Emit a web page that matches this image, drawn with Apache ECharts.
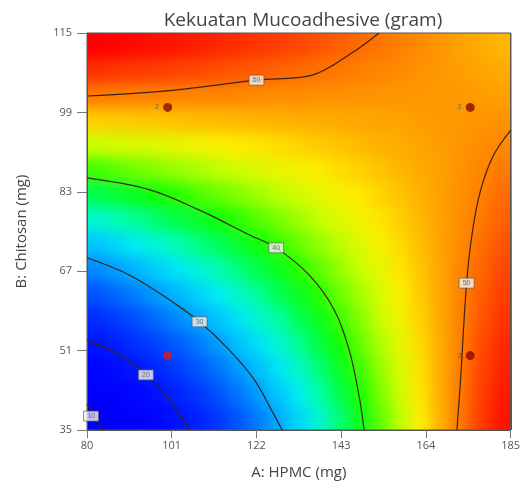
<!DOCTYPE html>
<html>
<head>
<meta charset="utf-8">
<script src="https://cdn.jsdelivr.net/npm/echarts@6/dist/echarts.min.js"></script>
<style>
  html,body{margin:0;padding:0;background:#fff;}
  #wrap{position:relative;width:523px;height:491px;}
  #clip{position:absolute;left:87px;top:33px;width:425px;height:397px;overflow:hidden;}
  #surf{position:absolute;left:-30px;top:-30px;width:485px;height:457px;filter:blur(7px);}
  #main{position:absolute;left:0;top:0;width:523px;height:491px;}
</style>
</head>
<body>
<div id="wrap">
  <div id="clip"><div id="surf"></div></div>
  <div id="main"></div>
</div>
<script>
// titik tengah sel (mg)
let hpmcCells=[82.5,87.5,92.5,97.5,102.5,107.5,112.5,117.5,122.5,127.5,132.5,137.5,142.5,147.5,152.5,157.5,162.5,167.5,172.5,177.5,182.5]
let chitosanCells=[37.5,42.5,47.5,52.5,57.5,62.5,67.5,72.5,77.5,82.5,87.5,92.5,97.5,102.5,107.5,112.5]
// kekuatan (gram) dibaca dari warna, satu baris per chitosan
let kekuatan=[
  [10.7,12.9,15.1,17.3,19.5,21.7,23.9,26.1,28.3,30.6,32.8,35.0,37.2,39.4,41.6,43.8,46.0,48.2,50.4,52.6,54.9],
  [13.7,15.8,17.8,19.8,21.9,23.9,25.9,28.0,30.0,32.0,34.1,36.1,38.1,40.2,42.2,44.2,46.3,48.3,50.3,52.4,54.4],
  [16.8,18.6,20.5,22.3,24.2,26.1,27.9,29.8,31.6,33.5,35.3,37.2,39.1,40.9,42.8,44.6,46.5,48.4,50.2,52.1,53.9],
  [19.8,21.5,23.2,24.8,26.5,28.2,29.9,31.6,33.3,34.9,36.6,38.3,40.0,41.7,43.4,45.0,46.7,48.4,50.1,51.8,53.5],
  [22.8,24.3,25.8,27.4,28.9,30.4,31.9,33.4,34.9,36.4,37.9,39.4,40.9,42.4,44.0,45.5,47.0,48.5,50.0,51.5,53.0],
  [25.9,27.2,28.5,29.9,31.2,32.5,33.9,35.2,36.5,37.9,39.2,40.5,41.9,43.2,44.5,45.9,47.2,48.5,49.9,51.2,52.5],
  [28.9,30.1,31.2,32.4,33.5,34.7,35.9,37.0,38.2,39.3,40.5,41.6,42.8,44.0,45.1,46.3,47.4,48.6,49.8,50.9,52.1],
  [31.9,32.9,33.9,34.9,35.9,36.9,37.8,38.8,39.8,40.8,41.8,42.8,43.7,44.7,45.7,46.7,47.7,48.7,49.6,50.6,51.6],
  [35.0,35.8,36.6,37.4,38.2,39.0,39.8,40.6,41.4,42.2,43.1,43.9,44.7,45.5,46.3,47.1,47.9,48.7,49.5,50.3,51.1],
  [38.0,38.6,39.3,39.9,40.5,41.2,41.8,42.4,43.1,43.7,44.3,45.0,45.6,46.2,46.9,47.5,48.1,48.8,49.4,50.0,50.7],
  [41.0,41.5,42.0,42.4,42.9,43.3,43.8,44.3,44.7,45.2,45.6,46.1,46.6,47.0,47.5,47.9,48.4,48.8,49.3,49.8,50.2],
  [44.1,44.4,44.6,44.9,45.2,45.5,45.8,46.1,46.3,46.6,46.9,47.2,47.5,47.8,48.1,48.3,48.6,48.9,49.2,49.5,49.7],
  [47.1,47.2,47.3,47.4,47.6,47.7,47.8,47.9,48.0,48.1,48.2,48.3,48.4,48.5,48.6,48.7,48.9,49.0,49.1,49.2,49.3],
  [50.2,50.1,50.0,50.0,49.9,49.8,49.8,49.7,49.6,49.5,49.5,49.4,49.4,49.3,49.2,49.2,49.1,49.0,49.0,48.9,48.8],
  [53.2,52.9,52.7,52.5,52.2,52.0,51.7,51.5,51.3,51.0,50.8,50.5,50.3,50.0,49.8,49.6,49.3,49.1,48.8,48.6,48.4],
  [56.2,55.8,55.4,55.0,54.6,54.1,53.7,53.3,52.9,52.5,52.1,51.6,51.2,50.8,50.4,50.0,49.6,49.1,48.7,48.3,47.9]
]

// garis kontur [A, B]
let kontur10=[[80,40.2],[81.5,38.6],[83.2,36.2],[84.2,35]]
let kontur20=[[80,53.1],[88.2,50.1],[94.6,46.1],[100.5,41],[105.4,35]]
let kontur30=[[80,69.7],[90.6,66.2],[100.5,61.2],[107.9,56.8],[115.3,51.1],[121.5,45.1],[126.4,38],[128.4,35]]
let kontur40=[[80,85.8],[95.6,83.4],[107.9,79.3],[120.3,74.3],[126.9,71.7],[135.1,66.2],[141.3,59.2],[145,51.1],[147.4,42.1],[148.7,35]]
let kontur50atas=[[80,102.3],[101.7,103.5],[122,105.5],[135.8,106.5],[145.7,111],[152.4,115]]
let kontur50kanan=[[171.7,35],[172.6,45.1],[174.1,64.6],[175.6,75.3],[177.6,83.4],[180.8,90.4],[185,95.4]]
let labelKontur=[[81,37.8,'10'],[94.6,46.1,'20'],[107.9,56.8,'30'],[126.9,71.7,'40'],[122,105.5,'50'],[174.1,64.6,'50']]

// titik desain
let titikDesain=[[100,50,''],[175,50,'2'],[100,100,'2'],[175,100,'2']]

let xTicks=[80,101,122,143,164,185]
let yTicks=[35,51,67,83,99,115]

// skala warna, min 8 s/d max 56 tiap 2 gram
let warnaSkala=['#0000e0','#0000ee','#0000f8','#0000ff','#0000ff','#0008ff','#0014ff','#0024ff','#0038ff','#0054ff','#0078ff','#00a0ff','#00c8ff',
  '#00eef0','#00ffb0','#00ff50','#10ff00','#70ff00','#c8ff00','#ffee00','#ffb400','#ff8000','#ff4800','#ff2000','#ff0000']

let heatData=[]
kekuatan.forEach((row,j)=>{
  row.forEach((v,i)=>{ heatData.push([i,j,v]) })
})

//permukaan warna (di-blur lewat css)
let nx=hpmcCells.length, ny=chitosanCells.length
var surfChart=echarts.init(document.getElementById('surf'))
surfChart.setOption({
  animation:false,
  grid:{left:30,right:30,top:30,bottom:30},
  visualMap:{show:false,min:8,max:56,dimension:2,inRange:{color:warnaSkala}},
  xAxis:{type:'category',data:hpmcCells,show:false},
  yAxis:{type:'category',data:chitosanCells,show:false},
  series:[{
    type:'custom',data:heatData,encode:{x:0,y:1},silent:true,
    renderItem:function(params,api){
      let i=api.value(0), j=api.value(1)
      let c=api.coord([i,j]), s=api.size([1,1])
      let x0=c[0]-s[0]/2, x1=c[0]+s[0]/2, y0=c[1]-s[1]/2, y1=c[1]+s[1]/2
      if(i==0) x0-=30
      if(i==nx-1) x1+=30
      if(j==0) y1+=30
      if(j==ny-1) y0-=30
      return {type:'rect',shape:{x:x0-0.5,y:y0-0.5,width:x1-x0+1,height:y1-y0+1},style:{fill:api.visual('color')}}
    }
  }]
})

function konturSeries(arr){
  return {
    type:'line',data:arr,smooth:0.35,
    symbol:'none',silent:true,z:3,
    lineStyle:{color:'#3a2418',width:1.2}
  }
}

var myChart=echarts.init(document.getElementById('main'))
option={
  backgroundColor:'transparent',
  animation:false,
  title:{
    text:'Kekuatan Mucoadhesive (gram)',
    left:298,top:6,textAlign:'center',
    textStyle:{fontFamily:'Open Sans',fontSize:19,fontWeight:'normal',color:'#444'}
  },
  grid:{left:87,right:11,top:33,bottom:61,show:true,borderColor:'#555',borderWidth:1,backgroundColor:'transparent'},
  xAxis:{type:'value',min:80,max:185,
     name:'A: HPMC (mg)',nameLocation:'middle',nameGap:35,
     nameTextStyle:{fontFamily:'Open Sans',fontSize:15,color:'#444'},
     axisLine:{show:true,lineStyle:{color:'#555'}},
     axisTick:{show:true,length:8,customValues:xTicks,lineStyle:{color:'#777'}},
     axisLabel:{customValues:xTicks,fontFamily:'Open Sans',fontSize:11,color:'#555',margin:10},
     splitLine:{show:false}},
  yAxis:{type:'value',min:35,max:115,
     name:'B: Chitosan (mg)',nameLocation:'middle',nameGap:58,
     nameTextStyle:{fontFamily:'Open Sans',fontSize:15,color:'#444'},
     axisLine:{show:true,lineStyle:{color:'#555'}},
     axisTick:{show:true,length:10,customValues:yTicks,lineStyle:{color:'#777'}},
     axisLabel:{customValues:yTicks,fontFamily:'Open Sans',fontSize:11,color:'#555',margin:15},
     splitLine:{show:false}},
  series:[
    konturSeries(kontur10),
    konturSeries(kontur20),
    konturSeries(kontur30),
    konturSeries(kontur40),
    konturSeries(kontur50atas),
    konturSeries(kontur50kanan),
    {type:'scatter',data:labelKontur,silent:true,z:5,
     symbol:'rect',symbolSize:[15,10],
     itemStyle:{color:'#f2f2f2',borderColor:'#555',borderWidth:0.8},
     label:{show:true,position:'inside',formatter:p=>p.value[2],fontSize:7,color:'#555'}},
    {type:'scatter',silent:true,z:6,symbol:'circle',symbolSize:9,
     data:titikDesain.map((p,k)=>({value:p,itemStyle:{color:k==0?'#e01818':'#8c0a06'}})),
     label:{show:true,position:'left',distance:4,formatter:p=>p.value[2],fontSize:7,color:'#555'}}
  ]
}
myChart.setOption(option)
</script>
</body>
</html>
